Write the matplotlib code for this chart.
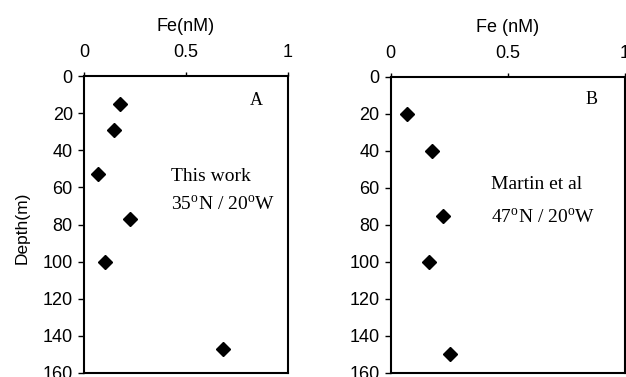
import matplotlib
matplotlib.use('Agg')
import matplotlib.pyplot as plt

plt.rcParams['font.family'] = 'Liberation Sans'
plt.rcParams['mathtext.fontset'] = 'custom'
plt.rcParams['mathtext.rm'] = 'Liberation Serif'

# Panel A: this work, 35N / 20W
fe_a = [0.176, 0.149, 0.070, 0.225, 0.105, 0.680]
depth_a = [15, 29, 53, 77, 100, 147]

# Panel B: Martin et al, 47N / 20W
fe_b = [0.071, 0.176, 0.223, 0.165, 0.253]
depth_b = [20, 40, 75, 100, 150]

xticks = [0, 0.5, 1]
xtick_labels = ['0', '0.5', '1']
yticks = [0, 20, 40, 60, 80, 100, 120, 140, 160]

fig = plt.figure(figsize=(6.26, 3.77), dpi=100)
ax_a = fig.add_axes([0.134, 0.011, 0.326, 0.787])
ax_b = fig.add_axes([0.624, 0.011, 0.374, 0.785])


def style_axis(ax, xlabel):
    ax.set_xlim(0, 1)
    ax.set_ylim(160, 0)
    ax.xaxis.tick_top()
    ax.xaxis.set_label_position('top')
    ax.set_xticks(xticks)
    ax.set_xticklabels(xtick_labels)
    ax.set_yticks(yticks)
    ax.tick_params(axis='x', direction='out', length=3, width=1, pad=8,
                   labelsize=13)
    ax.tick_params(axis='y', direction='out', length=4, width=1, pad=4,
                   labelsize=13)
    ax.set_xlabel(xlabel, fontsize=13, labelpad=9)
    for s in ax.spines.values():
        s.set_linewidth(1.5)


ax_a.plot(fe_a, depth_a, 'D', color='black', markersize=7, linestyle='none')
style_axis(ax_a, 'Fe(nM)')
ax_a.set_ylabel('Depth(m)', fontsize=12.5)
ax_a.yaxis.set_label_coords(-0.265, 0.49)
ax_a.text(0.815, 13, 'A', family='Liberation Serif', fontsize=13,
          va='center')
ax_a.text(0.425, 54, 'This work', family='Liberation Serif', fontsize=14,
          va='center')
ax_a.text(0.425, 69, r'35$^{\mathrm{o}}$N / 20$^{\mathrm{o}}$W',
          family='Liberation Serif', fontsize=14, va='center')

ax_b.plot(fe_b, depth_b, 'D', color='black', markersize=7, linestyle='none')
style_axis(ax_b, 'Fe (nM)')
ax_b.text(0.834, 12, 'B', family='Liberation Serif', fontsize=13, va='center')
ax_b.text(0.427, 58, 'Martin et al', family='Liberation Serif', fontsize=14,
          va='center')
ax_b.text(0.427, 76, r'47$^{\mathrm{o}}$N / 20$^{\mathrm{o}}$W',
          family='Liberation Serif', fontsize=14, va='center')

fig.savefig('out.png', dpi=100)
